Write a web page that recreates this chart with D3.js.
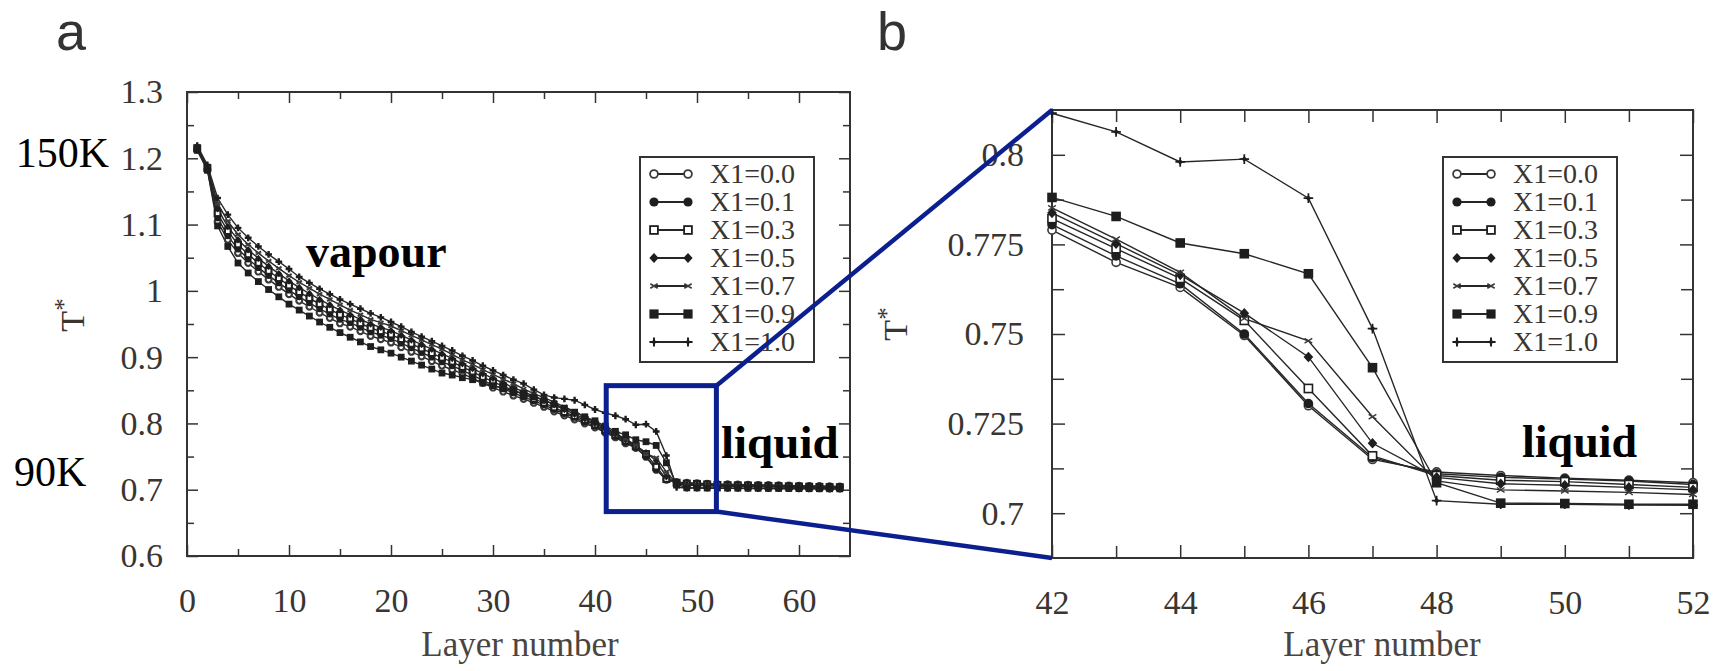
<!DOCTYPE html>
<html><head><meta charset="utf-8">
<script src="https://cdn.jsdelivr.net/npm/d3@7"></script>
<style>body{margin:0;background:#fff;} svg{display:block;}</style>
</head><body><svg id="c" width="1721" height="671"></svg>
<script>
// ---------------- DATA ----------------
const layers = [1,2,3,4,5,6,7,8,9,10,11,12,13,14,15,16,17,18,19,20,21,22,23,24,25,26,27,28,29,30,31,32,33,34,35,36,37,38,39,40,41,42,43,44,45,46,47,48,49,50,51,52,53,54,55,56,57,58,59,60,61,62,63,64];
const seriesNames = ["X1=0.0","X1=0.1","X1=0.3","X1=0.5","X1=0.7","X1=0.9","X1=1.0"];
const markerTypes = ["circleOpen","circle","squareOpen","diamond","x","square","plus"];

const tX00 = [1.213,1.183,1.104,1.077,1.057,1.042,1.029,1.017,1.006,0.995,
 0.985,0.976,0.967,0.959,0.951,0.946,0.939,0.932,0.927,0.922,
 0.915,0.908,0.901,0.894,0.887,0.881,0.875,0.868,0.861,0.854,
 0.848,0.842,0.837,0.831,0.825,0.818,0.812,0.806,0.800,0.794,0.786,
 0.7790,0.7700,0.7630,0.7496,0.7300,0.7150,0.7115,0.7105,0.7098,0.7092,0.7085,
 0.7082,0.7079,0.7076,0.7073,0.7070,0.7067,0.7064,0.7061,0.7058,0.7055,0.7052,0.7050];
const tX01 = [1.214,1.184,1.110,1.083,1.063,1.048,1.035,1.023,1.012,1.001,
 0.991,0.982,0.973,0.965,0.957,0.952,0.945,0.938,0.933,0.928,
 0.921,0.914,0.907,0.900,0.893,0.887,0.880,0.873,0.865,0.858,
 0.852,0.846,0.840,0.834,0.828,0.821,0.815,0.809,0.802,0.796,0.788,
 0.7805,0.7718,0.7640,0.7500,0.7306,0.7155,0.7110,0.7100,0.7095,0.7090,0.7080,
 0.7077,0.7074,0.7071,0.7068,0.7065,0.7062,0.7059,0.7056,0.7053,0.7050,0.7047,0.7044];
const tX03 = [1.215,1.185,1.117,1.090,1.070,1.055,1.042,1.030,1.019,1.008,
 0.998,0.989,0.980,0.972,0.964,0.958,0.951,0.944,0.939,0.934,
 0.927,0.920,0.913,0.906,0.899,0.893,0.885,0.878,0.870,0.863,
 0.856,0.850,0.844,0.837,0.831,0.824,0.817,0.811,0.805,0.798,0.790,
 0.7822,0.7738,0.7655,0.7538,0.7348,0.7160,0.7105,0.7092,0.7088,0.7080,0.7072,
 0.7069,0.7066,0.7063,0.7060,0.7057,0.7054,0.7051,0.7048,0.7045,0.7042,0.7040,0.7038];
const tX05 = [1.216,1.186,1.124,1.097,1.077,1.062,1.049,1.037,1.026,1.015,
 1.005,0.996,0.987,0.979,0.971,0.964,0.957,0.950,0.945,0.940,
 0.933,0.926,0.919,0.912,0.905,0.898,0.890,0.883,0.875,0.868,
 0.861,0.854,0.848,0.841,0.835,0.828,0.821,0.814,0.807,0.800,0.792,
 0.7838,0.7752,0.7665,0.7558,0.7436,0.7195,0.7100,0.7082,0.7078,0.7072,0.7065,
 0.7062,0.7060,0.7057,0.7055,0.7053,0.7050,0.7048,0.7046,0.7044,0.7042,0.7040,0.7038];
const tX07 = [1.218,1.188,1.132,1.105,1.085,1.070,1.057,1.045,1.034,1.023,
 1.013,1.004,0.995,0.987,0.979,0.971,0.964,0.957,0.952,0.947,
 0.940,0.933,0.926,0.919,0.912,0.904,0.896,0.889,0.881,0.874,
 0.867,0.860,0.852,0.845,0.839,0.832,0.825,0.818,0.810,0.802,0.7935,
 0.7852,0.7765,0.7672,0.7543,0.7481,0.7269,0.7090,0.7065,0.7062,0.7058,0.7052,
 0.7050,0.7048,0.7046,0.7044,0.7042,0.7040,0.7038,0.7036,0.7034,0.7032,0.7030,0.7028];
const tX09 = [1.212,1.182,1.098,1.067,1.042,1.027,1.014,1.002,0.991,0.980,
 0.971,0.962,0.953,0.945,0.937,0.930,0.923,0.916,0.911,0.906,
 0.900,0.894,0.888,0.882,0.876,0.873,0.869,0.866,0.861,0.857,
 0.853,0.849,0.845,0.840,0.835,0.829,0.823,0.817,0.810,0.804,0.796,
 0.7881,0.7828,0.7754,0.7724,0.7668,0.7406,0.7085,0.7028,0.7027,0.7025,0.7025,
 0.7024,0.7023,0.7022,0.7021,0.7020,0.7019,0.7018,0.7017,0.7016,0.7015,0.7014,0.7013];
const tX10 = [1.219,1.190,1.140,1.115,1.095,1.080,1.067,1.055,1.044,1.033,
 1.021,1.012,1.003,0.995,0.987,0.980,0.973,0.966,0.960,0.953,
 0.946,0.938,0.931,0.924,0.917,0.910,0.902,0.895,0.887,0.880,
 0.873,0.866,0.860,0.851,0.843,0.839,0.837,0.835,0.828,0.821,0.816,
 0.8116,0.8064,0.7980,0.7988,0.7879,0.7515,0.7035,0.7025,0.7025,0.7023,0.7022,
 0.7021,0.7020,0.7019,0.7018,0.7017,0.7016,0.7015,0.7014,0.7013,0.7012,0.7011,0.7010];

const xTicksA = [0,10,20,30,40,50,60];
const xMinorA = [5,15,25,35,45,55];
const yTicksA = [0.6,0.7,0.8,0.9,1.0,1.1,1.2,1.3];
const yLabelsA = ["0.6","0.7","0.8","0.9","1","1.1","1.2","1.3"];
const yMinorA = [0.65,0.75,0.85,0.95,1.05,1.15,1.25];
const xTicksB = [42,44,46,48,50,52];
const xMinorB = [43,45,47,49,51];
const yTicksB = [0.7,0.725,0.75,0.775,0.8];
const yLabelsB = ["0.7","0.725","0.75","0.775","0.8"];
const yMinorB = [0.7125,0.7375,0.7625,0.7875];
const zoomBox = {x0:41.1, x1:51.9, y0:0.667, y1:0.857};

// ---------------- DRAW ----------------
const svg = d3.select("#c");
const serif = "'Liberation Serif','Times New Roman',serif";
const allSeries = [tX00,tX01,tX03,tX05,tX07,tX09,tX10];
const data = allSeries.map((vals,i)=>({name:seriesNames[i], type:markerTypes[i],
  pts: layers.map((l,j)=>({x:l, y:vals[j]}))}));

const xa = d3.scaleLinear().domain([0,65]).range([187,850]);
const ya = d3.scaleLinear().domain([0.6,1.3]).range([556,92]);
const xb = d3.scaleLinear().domain([42,52]).range([1052,1693]);
const yb = d3.scaleLinear().domain([0.6875,0.8125]).range([558,110]);

function marker(g, type, r, sw){
  const ink="#1e1e1e";
  sw = sw || 1.4;
  switch(type){
    case "circleOpen": g.append("circle").attr("r",r*0.85).attr("fill","#fff").attr("stroke","#3a3a3a").attr("stroke-width",sw); break;
    case "circle": g.append("circle").attr("r",r).attr("fill",ink); break;
    case "squareOpen": g.append("rect").attr("x",-r*0.85).attr("y",-r*0.85).attr("width",r*1.7).attr("height",r*1.7).attr("fill","#fff").attr("stroke",ink).attr("stroke-width",sw); break;
    case "diamond": g.append("path").attr("d",`M0,${-r*1.1}L${r},0L0,${r*1.1}L${-r},0Z`).attr("fill",ink); break;
    case "x": g.append("path").attr("d",`M${-r*0.8},${-r*0.5}L${r*0.8},${r*0.5}M${-r*0.8},${r*0.5}L${r*0.8},${-r*0.5}`).attr("stroke","#3a3a3a").attr("stroke-width",sw*0.9).attr("fill","none"); break;
    case "square": g.append("rect").attr("x",-r).attr("y",-r).attr("width",2*r).attr("height",2*r).attr("fill",ink); break;
    case "plus":
      g.append("path").attr("d",`M${-r},0H${r}M0,${-r}V${r}`).attr("stroke",ink).attr("stroke-width",sw*1.1);
      g.append("path").attr("d",`M0,${-r*0.6}L${r*0.6},0L0,${r*0.6}L${-r*0.6},0Z`).attr("fill",ink); break;
  }
}

function axes(x, y, o){
  const g = svg.append("g");
  const [x0,x1]=x.range(), [yB,yT]=y.range();
  const style = s => { s.select(".domain").remove(); s.selectAll("line").attr("stroke","#333").attr("stroke-width",1.5); };
  g.append("g").attr("transform",`translate(0,${yB})`).call(d3.axisBottom(x).tickValues(o.xMajor).tickSize(-o.major).tickPadding(o.xPad).tickFormat(d=>String(d))).call(style)
   .selectAll("text").attr("font-family",serif).attr("font-size",o.fs).attr("fill","#3a3530");
  g.append("g").attr("transform",`translate(0,${yB})`).call(d3.axisBottom(x).tickValues(o.xMinor).tickSize(-o.minor).tickFormat("")).call(style);
  g.append("g").attr("transform",`translate(0,${yT})`).call(d3.axisTop(x).tickValues(o.xMajor).tickSize(-o.major).tickFormat("")).call(style);
  g.append("g").attr("transform",`translate(0,${yT})`).call(d3.axisTop(x).tickValues(o.xMinor).tickSize(-o.minor).tickFormat("")).call(style);
  g.append("g").attr("transform",`translate(${x0},0)`).call(d3.axisLeft(y).tickValues(o.yMajor).tickSize(-o.major).tickPadding(o.yPad).tickFormat((d,i)=>o.yLabels[i])).call(style)
   .selectAll("text").attr("font-family",serif).attr("font-size",o.fs).attr("fill","#3a3530");
  g.append("g").attr("transform",`translate(${x0},0)`).call(d3.axisLeft(y).tickValues(o.yMinor).tickSize(-o.minor).tickFormat("")).call(style);
  g.append("g").attr("transform",`translate(${x1},0)`).call(d3.axisRight(y).tickValues(o.yMajor).tickSize(-o.major).tickFormat("")).call(style);
  g.append("g").attr("transform",`translate(${x1},0)`).call(d3.axisRight(y).tickValues(o.yMinor).tickSize(-o.minor).tickFormat("")).call(style);
  g.append("rect").attr("x",x0).attr("y",yT).attr("width",x1-x0).attr("height",yB-yT).attr("fill","none").attr("stroke","#333").attr("stroke-width",2);
  svg.append("text").attr("x",o.titleX).attr("y",656).attr("text-anchor","middle").attr("font-family",serif).attr("font-size",35).attr("fill","#4a4540").text("Layer number");
  const t = svg.append("text").attr("transform",`translate(${o.tX},${o.tY}) rotate(-90)`).attr("text-anchor","middle").attr("font-family",serif).attr("font-size",34).attr("fill","#3a3530");
  t.append("tspan").text("T");
  t.append("tspan").attr("dy",-12).attr("font-size",25).text("*");
}

function plotSeries(x, y, filter, r, lw, msw){
  const line = d3.line().x(d=>x(d.x)).y(d=>y(d.y));
  const g = svg.append("g");
  data.forEach(s=>{
    const pts = s.pts.filter(filter);
    g.append("path").attr("d",line(pts)).attr("fill","none").attr("stroke","#262626").attr("stroke-width",lw);
  });
  data.forEach(s=>{
    const pts = s.pts.filter(filter);
    g.selectAll(null).data(pts).enter().append("g").attr("transform",d=>`translate(${x(d.x)},${y(d.y)})`).each(function(){ marker(d3.select(this), s.type, r, msw); });
  });
}

function legend(left, top){
  const g = svg.append("g");
  const rowH = 28, w = 174, h = 205;
  g.append("rect").attr("x",left).attr("y",top).attr("width",w).attr("height",h).attr("fill","#fff").attr("stroke","#333").attr("stroke-width",2);
  seriesNames.forEach((n,i)=>{
    const cy = top + 17 + i*rowH;
    g.append("line").attr("x1",left+14).attr("x2",left+48).attr("y1",cy).attr("y2",cy).attr("stroke","#262626").attr("stroke-width",1.8);
    [left+14,left+48].forEach(cx=>{ const m=g.append("g").attr("transform",`translate(${cx},${cy})`); marker(m, markerTypes[i], 4.6, 1.8); });
    g.append("text").attr("x",left+70).attr("y",cy+9).attr("font-family",serif).attr("font-size",28).attr("fill","#3a3530").text(n);
  });
}

// Panel a
axes(xa, ya, {xMajor:xTicksA, xMinor:xMinorA, yMajor:yTicksA, yLabels:yLabelsA, yMinor:yMinorA, major:11, minor:7, xPad:32, yPad:24, fs:34, titleX:520, tX:84, tY:315});
plotSeries(xa, ya, d=>true, 3.4, 1.4, 2.2);
legend(640, 157);

// Panel b
axes(xb, yb, {xMajor:xTicksB, xMinor:xMinorB, yMajor:yTicksB, yLabels:yLabelsB, yMinor:yMinorB, major:13, minor:12, xPad:32, yPad:28, fs:34, titleX:1382, tX:907, tY:324});
plotSeries(xb, yb, d=>d.x>=42 && d.x<=52, 4.8, 1.4, 1.6);
legend(1443, 157);

// annotations
svg.append("text").attr("x",306).attr("y",267).attr("font-family",serif).attr("font-weight","bold").attr("font-size",46).attr("fill","#000").text("vapour");
svg.append("text").attr("x",721).attr("y",458).attr("font-family",serif).attr("font-weight","bold").attr("font-size",47).attr("fill","#000").text("liquid");
svg.append("text").attr("x",1522).attr("y",457).attr("font-family",serif).attr("font-weight","bold").attr("font-size",46).attr("fill","#000").text("liquid");
svg.append("text").attr("x",109).attr("y",167).attr("text-anchor","end").attr("font-family",serif).attr("font-size",42).attr("fill","#000").text("150K");
svg.append("text").attr("x",14).attr("y",486).attr("font-family",serif).attr("font-size",42).attr("fill","#000").text("90K");
svg.append("text").attr("x",56).attr("y",50).attr("font-family","'Liberation Sans',Arial,sans-serif").attr("font-size",54).attr("fill","#333").text("a");
svg.append("text").attr("x",877).attr("y",50).attr("font-family","'Liberation Sans',Arial,sans-serif").attr("font-size",54).attr("fill","#333").text("b");

// zoom box and connectors
const blue = "#0b1f8f";
const bx0 = xa(zoomBox.x0), bx1 = xa(zoomBox.x1), by0 = ya(zoomBox.y1), by1 = ya(zoomBox.y0);
svg.append("rect").attr("x",bx0).attr("y",by0).attr("width",bx1-bx0).attr("height",by1-by0).attr("fill","none").attr("stroke",blue).attr("stroke-width",5);
svg.append("line").attr("x1",bx1).attr("y1",by0).attr("x2",xb(42)).attr("y2",yb(0.8125)).attr("stroke",blue).attr("stroke-width",4.5);
svg.append("line").attr("x1",bx1).attr("y1",by1).attr("x2",xb(42)).attr("y2",yb(0.6875)).attr("stroke",blue).attr("stroke-width",4.5);
</script></body></html>
